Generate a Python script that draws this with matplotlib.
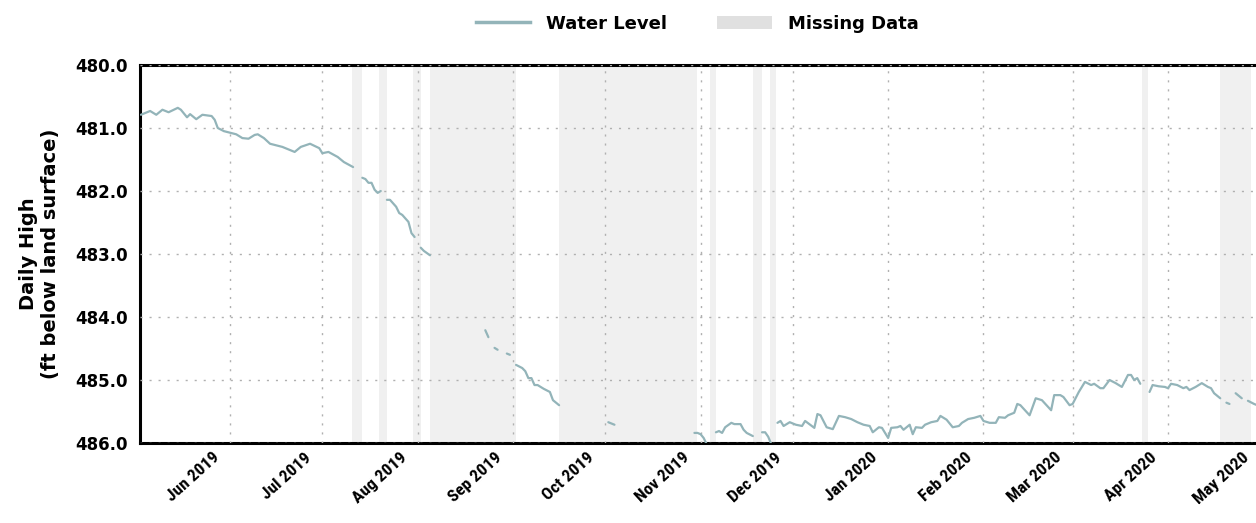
import numpy as np
import pandas as pd
import matplotlib
matplotlib.use("Agg")
import matplotlib.pyplot as plt
import matplotlib.dates as mdates
import matplotlib.transforms as mtransforms
from matplotlib import font_manager
from matplotlib.lines import Line2D
from matplotlib.patches import Patch

NAN = np.nan

# ---- data (daily high, ft below land surface) ----
level_dates = [
    "2019-05-03", "2019-05-06", "2019-05-08", "2019-05-10", "2019-05-12", "2019-05-15",
    "2019-05-16", "2019-05-18", "2019-05-19", "2019-05-21", "2019-05-23", "2019-05-26",
    "2019-05-27", "2019-05-28", "2019-05-30", "2019-06-03", "2019-06-05", "2019-06-07",
    "2019-06-09", "2019-06-10", "2019-06-12", "2019-06-14", "2019-06-18", "2019-06-22",
    "2019-06-24", "2019-06-27", "2019-06-30", "2019-07-01", "2019-07-03", "2019-07-06",
    "2019-07-08", "2019-07-11",
    "2019-07-12",
    "2019-07-14", "2019-07-15", "2019-07-16", "2019-07-17", "2019-07-18", "2019-07-19",
    "2019-07-20",
    "2019-07-21",
    "2019-07-22", "2019-07-23", "2019-07-25", "2019-07-26", "2019-07-27", "2019-07-29",
    "2019-07-30", "2019-07-31",
    "2019-08-01",
    "2019-08-02", "2019-08-03", "2019-08-05",
    "2019-08-15",
    "2019-08-23", "2019-08-24",
    "2019-08-25",
    "2019-08-26", "2019-08-27",
    "2019-08-29",
    "2019-08-30", "2019-08-31",
    "2019-09-01",
    "2019-09-02", "2019-09-04", "2019-09-05", "2019-09-06", "2019-09-07", "2019-09-08",
    "2019-09-09", "2019-09-11", "2019-09-13", "2019-09-14", "2019-09-16",
    "2019-09-25",
    "2019-10-02", "2019-10-04",
    "2019-10-15",
    "2019-10-30", "2019-10-31", "2019-11-01", "2019-11-02", "2019-11-03",
    "2019-11-05",
    "2019-11-06", "2019-11-07", "2019-11-08", "2019-11-09", "2019-11-11", "2019-11-12",
    "2019-11-14", "2019-11-15", "2019-11-16", "2019-11-18",
    "2019-11-20",
    "2019-11-21", "2019-11-22", "2019-11-23", "2019-11-24",
    "2019-11-25",
    "2019-11-26", "2019-11-27", "2019-11-28", "2019-11-30", "2019-12-02", "2019-12-04",
    "2019-12-05", "2019-12-08", "2019-12-09", "2019-12-10", "2019-12-12", "2019-12-14",
    "2019-12-16", "2019-12-18", "2019-12-20", "2019-12-22", "2019-12-24", "2019-12-26",
    "2019-12-27", "2019-12-29", "2019-12-30", "2020-01-01", "2020-01-02", "2020-01-04",
    "2020-01-05", "2020-01-06", "2020-01-08", "2020-01-09", "2020-01-10", "2020-01-12",
    "2020-01-13", "2020-01-15", "2020-01-17", "2020-01-18", "2020-01-20", "2020-01-22",
    "2020-01-24", "2020-01-25", "2020-01-27", "2020-01-29", "2020-01-31", "2020-02-01",
    "2020-02-03", "2020-02-05", "2020-02-06", "2020-02-08", "2020-02-09", "2020-02-11",
    "2020-02-12", "2020-02-13", "2020-02-16", "2020-02-18", "2020-02-20", "2020-02-23",
    "2020-02-24", "2020-02-26", "2020-02-27", "2020-02-29", "2020-03-01", "2020-03-03",
    "2020-03-05", "2020-03-07", "2020-03-08", "2020-03-10", "2020-03-11", "2020-03-13",
    "2020-03-15", "2020-03-17", "2020-03-19", "2020-03-20", "2020-03-21", "2020-03-22",
    "2020-03-23",
    "2020-03-25",
    "2020-03-26", "2020-03-27", "2020-03-29", "2020-03-31", "2020-04-01", "2020-04-02",
    "2020-04-04", "2020-04-06", "2020-04-07", "2020-04-08", "2020-04-10", "2020-04-12",
    "2020-04-14", "2020-04-15", "2020-04-16", "2020-04-18",
    "2020-04-19",
    "2020-04-20", "2020-04-21",
    "2020-04-22",
    "2020-04-23", "2020-04-24", "2020-04-25",
    "2020-04-26",
    "2020-04-27", "2020-04-29", "2020-04-30",
]
level_values = [
    480.79, 480.73, 480.79, 480.71, 480.75, 480.68,
    480.71, 480.83, 480.78, 480.86, 480.79, 480.81,
    480.87, 481.00, 481.05, 481.10, 481.16, 481.17,
    481.11, 481.10, 481.16, 481.25, 481.30, 481.38,
    481.30, 481.25, 481.32, 481.40, 481.38, 481.46,
    481.54, 481.62,
    NAN,
    481.79, 481.81, 481.87, 481.87, 481.98, 482.03,
    482.00,
    NAN,
    482.14, 482.14, 482.25, 482.35, 482.38, 482.49,
    482.67, 482.73,
    NAN,
    482.90, 482.95, 483.02,
    NAN,
    484.21, 484.32,
    NAN,
    484.49, 484.52,
    NAN,
    484.58, 484.60,
    NAN,
    484.76, 484.81, 484.86, 484.97, 484.97, 485.08,
    485.08, 485.14, 485.19, 485.32, 485.40,
    NAN,
    485.67, 485.71,
    NAN,
    485.84, 485.84, 485.86, 485.92, 486.02,
    NAN,
    485.83, 485.81, 485.84, 485.75, 485.68, 485.70,
    485.70, 485.79, 485.84, 485.89,
    NAN,
    485.83, 485.83, 485.90, 486.02,
    NAN,
    485.68, 485.65, 485.73, 485.67, 485.71, 485.73,
    485.65, 485.76, 485.54, 485.56, 485.75, 485.78,
    485.57, 485.59, 485.62, 485.67, 485.71, 485.73,
    485.83, 485.75, 485.76, 485.92, 485.76, 485.75,
    485.73, 485.79, 485.71, 485.86, 485.75, 485.76,
    485.71, 485.67, 485.65, 485.57, 485.63, 485.75,
    485.73, 485.68, 485.62, 485.60, 485.57, 485.65,
    485.68, 485.68, 485.59, 485.60, 485.56, 485.52,
    485.38, 485.40, 485.56, 485.29, 485.32, 485.48,
    485.24, 485.24, 485.27, 485.40, 485.38, 485.19,
    485.03, 485.08, 485.06, 485.13, 485.13, 485.00,
    485.05, 485.11, 484.92, 484.92, 485.00, 484.97,
    485.06,
    NAN,
    485.19, 485.08, 485.10, 485.11, 485.13, 485.06,
    485.08, 485.13, 485.11, 485.16, 485.11, 485.05,
    485.11, 485.13, 485.21, 485.29,
    NAN,
    485.36, 485.38,
    NAN,
    485.21, 485.25, 485.29,
    NAN,
    485.33, 485.38, 485.40,
]

missing_starts = ["2019-07-10T12:00", "2019-07-19T12:00", "2019-07-30T12:00", "2019-08-05",
                  "2019-09-16", "2019-11-04", "2019-11-18", "2019-11-23T12:00",
                  "2020-03-23T12:00", "2020-04-18"]
missing_ends = ["2019-07-14", "2019-07-22", "2019-08-02", "2019-09-02",
                "2019-10-31", "2019-11-06", "2019-11-21", "2019-11-25T12:00",
                "2020-03-25T12:00", "2020-04-28"]

y_ticks = [480.0, 481.0, 482.0, 483.0, 484.0, 485.0, 486.0]
x_range = ["2019-05-02T17:00", "2020-05-01T06:00"]

LINE_COLOR = "#93b4b9"
SHADE_COLOR = "#f0f0f0"
LEGEND_SHADE = "#e0e0e0"

# a narrow bold font for the date labels, if one is installed
_names = {f.name for f in font_manager.fontManager.ttflist}
_cands = ["Liberation Sans Narrow", "DejaVu Sans Condensed", "Roboto Condensed",
          "Open Sans Condensed", "Noto Sans Condensed", "Lato", "Roboto"]
NARROW = next((c for c in _cands if c in _names), "DejaVu Sans")
plt.rcParams["font.family"] = ["DejaVu Sans"]
plt.rcParams["font.weight"] = "bold"

fig = plt.figure(figsize=(12.56, 5.23), dpi=100)
ax_left = 140 / 1256
ax_right = 1261 / 1256
ax = fig.add_axes([ax_left, 1 - 443 / 523, ax_right - ax_left, (443 - 65) / 523])

dates = pd.to_datetime(level_dates)
ax.plot(dates, level_values, color=LINE_COLOR, lw=1.6, zorder=3, solid_capstyle="round")

for s, e in zip(missing_starts, missing_ends):
    ax.axvspan(pd.Timestamp(s), pd.Timestamp(e), color=SHADE_COLOR, lw=0, zorder=0)

ax.set_ylim(486.0, 480.0)
ax.set_yticks(y_ticks)
ax.set_yticklabels([f"{v:.1f}" for v in y_ticks], fontsize=12, fontweight="bold")
ax.set_xlim(pd.Timestamp(x_range[0]), pd.Timestamp(x_range[1]))
ax.xaxis.set_major_locator(mdates.MonthLocator())
ax.xaxis.set_major_formatter(mdates.DateFormatter("%b %Y"))
ax.tick_params(axis="both", length=0)
ax.tick_params(axis="y", pad=9)
ax.tick_params(axis="x", pad=5, labelrotation=42)

fig.canvas.draw()
shift = mtransforms.ScaledTranslation(-8 / 100, 0, fig.dpi_scale_trans)
for lab in ax.get_xticklabels():
    lab.set_ha("right")
    lab.set_fontfamily([NARROW, "DejaVu Sans"])
    lab.set_fontsize(12.5)
    lab.set_fontweight("bold")
    lab.set_transform(lab.get_transform() + shift)

ax.grid(True, color="#b0b0b0", lw=1, linestyle=(0, (1.5, 5)), zorder=1)
ax.set_axisbelow(False)
for side in ["left", "bottom", "top"]:
    ax.spines[side].set_linewidth(2.2)
    ax.spines[side].set_color("black")
ax.spines["right"].set_visible(False)

ax.set_ylabel("Daily High\n(ft below land surface)", fontsize=14, fontweight="bold",
              labelpad=11, linespacing=1.2)

handles = [Line2D([0], [0], color=LINE_COLOR, lw=2.5),
           Patch(facecolor=LEGEND_SHADE, edgecolor="none")]
fig.legend(handles, ["Water Level", "Missing Data"], loc="center",
           bbox_to_anchor=(0.555, 0.955), ncol=2, frameon=False,
           prop={"size": 13, "weight": "bold"}, handlelength=3.0,
           handletextpad=0.9, columnspacing=2.8)

fig.savefig("out.png", dpi=100)
